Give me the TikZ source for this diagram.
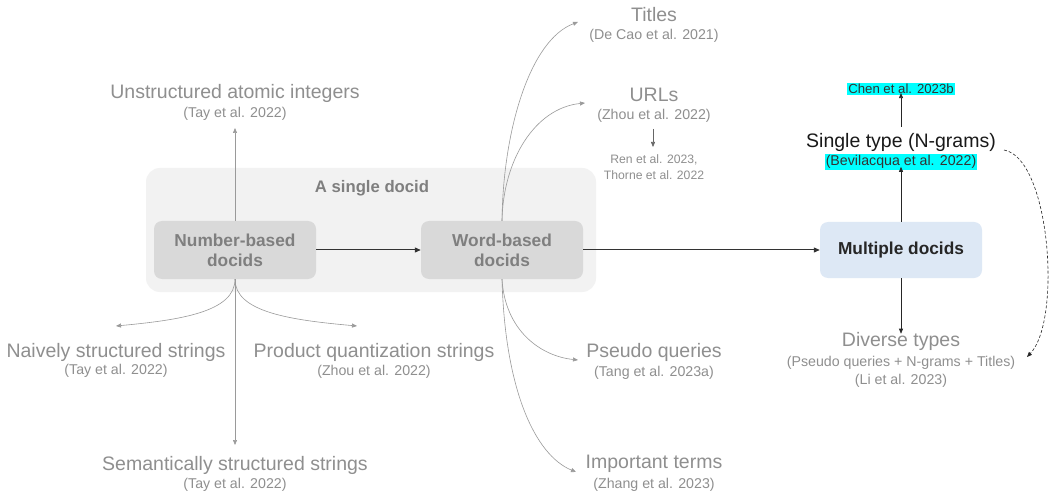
\documentclass[tikz,border=0pt]{standalone}
\usepackage{fontspec}
\setmainfont{Liberation Sans}
\usetikzlibrary{arrows.meta}
\definecolor{txtgray}{HTML}{8F8F8F}
\definecolor{boxtxt}{HTML}{7F7F7F}
\definecolor{linegray}{HTML}{9A9A9A}
\definecolor{outerfill}{HTML}{F2F2F2}
\definecolor{innerfill}{HTML}{D9D9D9}
\definecolor{bluefill}{HTML}{DDE8F5}
\definecolor{hl}{HTML}{00FFFF}
\tikzset{
  lbl/.style={text=txtgray, font=\fontsize{19.5}{22}\selectfont, inner sep=0pt, anchor=center},
  cite/.style={text=txtgray, font=\fontsize{14.2}{16}\selectfont, inner sep=0pt, anchor=center},
  smallcite/.style={text=txtgray, font=\fontsize{12.2}{16}\selectfont, inner sep=0pt, align=center},
  graybox/.style={fill=innerfill, rounded corners=8pt, minimum width=162pt, minimum height=58pt, text=boxtxt, font=\bfseries\fontsize{17.3}{20}\selectfont, align=center},
  conn/.style={draw=linegray, line width=0.6pt, -{Triangle[length=5pt,width=4pt]}},
  mainarrow/.style={draw=black!80, line width=1pt, -{Triangle[length=6pt,width=5pt]}},
  darkarrow/.style={draw=black!85, line width=0.6pt, -{Triangle[length=5pt,width=4pt]}},
  hlbox/.style={fill=hl, inner sep=1pt, text=black!80}
}
\begin{document}
\begin{tikzpicture}[x=1pt,y=-1pt]
\path[use as bounding box, fill=white] (0,0) rectangle (1054,494);

% container
\node[fill=outerfill, rounded corners=14pt, minimum width=450pt, minimum height=124pt, inner sep=0pt] (outer) at (371,230) {};
\node[text=boxtxt, font=\bfseries\fontsize{16.7}{19}\selectfont, inner sep=0pt] (single) at (372,188) {A single docid};

% boxes
\node[graybox] (nb) at (235,250) {Number-based\\docids};
\node[graybox] (wb) at (502,250) {Word-based\\docids};
\node[fill=bluefill, rounded corners=8pt, minimum width=162pt, minimum height=56pt, font=\bfseries\fontsize{17.3}{20}\selectfont, text=black!85] (md) at (901,250) {Multiple docids};

% number-based labels
\node[lbl] (uai) at (235,93) {Unstructured atomic integers};
\node[cite] (uaic) at (235,114) {(Tay et al. 2022)};
\node[lbl] (nss) at (116,352) {Naively structured strings};
\node[cite] (nssc) at (116,371) {(Tay et al. 2022)};
\node[lbl] (pqs) at (374,352) {Product quantization strings};
\node[cite] (pqsc) at (374,372) {(Zhou et al. 2022)};
\node[lbl] (sss) at (235,465) {Semantically structured strings};
\node[cite] (sssc) at (235,485) {(Tay et al. 2022)};

% word-based labels
\node[lbl] (tit) at (654,15) {Titles};
\node[cite] (titc) at (654,36) {(De Cao et al. 2021)};
\node[lbl] (url) at (654,95) {URLs};
\node[cite] (urlc) at (654,116) {(Zhou et al. 2022)};
\node[smallcite] (ren) at (654,167) {Ren et al. 2023,\\Thorne et al. 2022};
\node[lbl] (psq) at (654,352) {Pseudo queries};
\node[cite] (psqc) at (654,373) {(Tang et al. 2023a)};
\node[lbl] (imp) at (654,464) {Important terms};
\node[cite] (impc) at (654,485) {(Zhang et al. 2023)};

% multiple docids labels
\node[lbl, text=black!90] (st) at (901,142) {Single type (N-grams)};
\node[cite, hlbox] (stc) at (901,162) {(Bevilacqua et al. 2022)};
\node[font=\fontsize{13.2}{15}\selectfont, hlbox] (chen) at (901,89) {Chen et al. 2023b};
\node[lbl] (div) at (901,341) {Diverse types};
\node[cite] (divc) at (901,363) {(Pseudo queries + N-grams + Titles)};
\node[cite] (divc2) at (901,381) {(Li et al. 2023)};

% tip coordinates
\coordinate (tUai) at (235,128);
\coordinate (tNss) at (116,326);
\coordinate (tPqs) at (357,326);
\coordinate (tSss) at (235,445);
\coordinate (tTit) at (578,22);
\coordinate (tUrl) at (585,103);
\coordinate (tPsq) at (578,360);
\coordinate (tImp) at (576,472);
\coordinate (tDiv) at (1027,357);
\coordinate (sDash) at (1004,150);
\coordinate (sUrl) at (653,129);
\coordinate (tRen) at (653,147);
\coordinate (sChen) at (901,127);

% main arrows
\draw[mainarrow] (nb.east) -- (wb.west);
\draw[mainarrow] (wb.east) -- (md.west);

% number-based connectors
\draw[conn] (nb.north) -- (tUai);
\draw[conn] (nb.south) .. controls (235,312) and (180,320) .. (tNss);
\draw[conn] (nb.south) .. controls (235,312) and (290,320) .. (tPqs);
\draw[conn] (nb.south) -- (tSss);

% word-based connectors
\draw[conn] (wb.north) .. controls (503,130) and (530,40) .. (tTit);
\draw[conn] (wb.north) .. controls (503,160) and (535,108) .. (tUrl);
\draw[conn] (wb.south) .. controls (505,330) and (540,356) .. (tPsq);
\draw[conn] (wb.south) .. controls (505,390) and (535,455) .. (tImp);
\draw[conn, draw=black!60] (sUrl) -- (tRen);

% multiple docids connectors
\draw[darkarrow] (md.north) -- ([yshift=3pt]stc.south);
\draw[darkarrow] (sChen) -- ([yshift=2pt]chen.south);
\draw[darkarrow] (md.south) -- ([yshift=-2pt]div.north);
\draw[darkarrow, dashed, dash pattern=on 3pt off 2pt] (sDash) .. controls (1050,158) and (1062,320) .. (tDiv);
\end{tikzpicture}
\end{document}
